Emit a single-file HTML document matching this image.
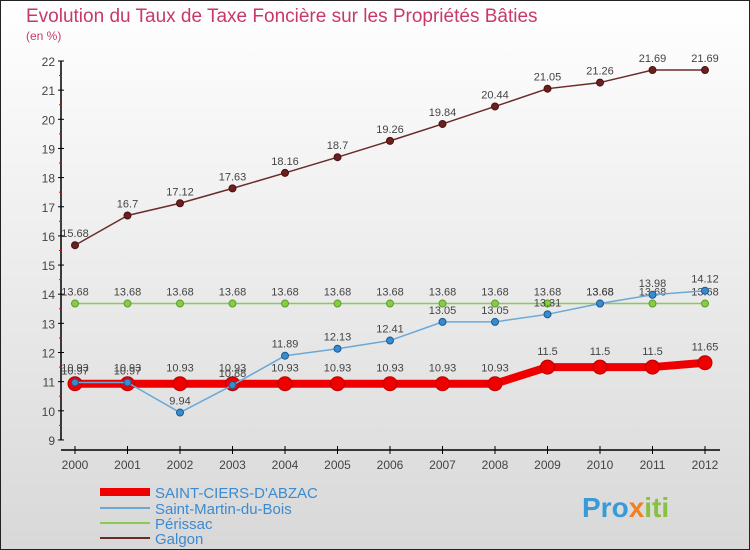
<!DOCTYPE html>
<html><head><meta charset="utf-8"><style>
body{margin:0;}
#c{width:750px;height:550px;position:relative;overflow:hidden;background:linear-gradient(#ffffff,#d8d8d8);font-family:"Liberation Sans",sans-serif;}
text{font-family:"Liberation Sans",sans-serif;}
</style></head><body>
<div id="c">
<svg id="s" width="750" height="550" xmlns="http://www.w3.org/2000/svg">
<rect x="0.5" y="0.5" width="749" height="549" fill="none" stroke="#222"/>
<text x="26" y="22" font-size="19" fill="#c8386a">Evolution du Taux de Taxe Foncière sur les Propriétés Bâties</text>
<text x="26" y="40" font-size="12" fill="#c8386a">(en %)</text>
<g id="grid"></g><g id="axes"></g><g id="series"></g>
<g>
<line x1="100" y1="492" x2="150" y2="492" stroke="#ee0000" stroke-width="8"/>
<text x="155" y="498" font-size="15" fill="#3c8ad0">SAINT-CIERS-D'ABZAC</text>
<line x1="100" y1="508" x2="150" y2="508" stroke="#6aa8d8" stroke-width="2"/>
<text x="155" y="514" font-size="15" fill="#3c8ad0">Saint-Martin-du-Bois</text>
<line x1="100" y1="523" x2="150" y2="523" stroke="#88cc55" stroke-width="2"/>
<text x="155" y="529" font-size="15" fill="#3c8ad0">Périssac</text>
<line x1="100" y1="538" x2="150" y2="538" stroke="#6b2a2a" stroke-width="2"/>
<text x="155" y="544" font-size="15" fill="#3c8ad0">Galgon</text>
</g>
<text x="582" y="517" font-size="28" font-weight="bold" fill="#3a9ad8">Pro<tspan fill="#f08020">x</tspan><tspan fill="#88c040">iti</tspan></text>
</svg></div>
<script>
const years=[2000,2001,2002,2003,2004,2005,2006,2007,2008,2009,2010,2011,2012];
const yTicks=[9,10,11,12,13,14,15,16,17,18,19,20,21,22];
const galgon=[15.68,16.7,17.12,17.63,18.16,18.7,19.26,19.84,20.44,21.05,21.26,21.69,21.69];
const perissac=[13.68,13.68,13.68,13.68,13.68,13.68,13.68,13.68,13.68,13.68,13.68,13.68,13.68];
const saintMartin=[10.97,10.97,9.94,10.88,11.89,12.13,12.41,13.05,13.05,13.31,13.68,13.98,14.12];
const saintCiers=[10.93,10.93,10.93,10.93,10.93,10.93,10.93,10.93,10.93,11.5,11.5,11.5,11.65];
const NS="http://www.w3.org/2000/svg";
const X=i=>75+i*52.5;
const Y=v=>61+(22-v)*29.15;
function mk(t,a,p){const e=document.createElementNS(NS,t);for(const k in a)e.setAttribute(k,a[k]);p.appendChild(e);return e;}
const axes=document.getElementById('axes');
let ax=mk('line',{x1:61,y1:Y(22),x2:61,y2:Y(9),stroke:'#000','stroke-width':1.5},axes);

let bx=mk('line',{x1:61,y1:450,x2:720,y2:450,stroke:'#000','stroke-width':1.5},axes);

yTicks.forEach(v=>{
 mk('line',{x1:58,y1:Y(v),x2:64,y2:Y(v),stroke:'#000'},axes);
 if(v<22) mk('line',{x1:59,y1:Y(v+0.5),x2:62,y2:Y(v+0.5),stroke:'#e00'},axes);
 const t=mk('text',{x:55,y:Y(v)+5,'font-size':12,fill:'#444','text-anchor':'end'},axes);t.textContent=v;
 
});
years.forEach((yr,i)=>{
 mk('line',{x1:X(i),y1:446,x2:X(i),y2:454,stroke:'#000'},axes);
 const t=mk('text',{x:X(i),y:469,'font-size':12,fill:'#444','text-anchor':'middle'},axes);t.textContent=yr;
 
});
const ser=document.getElementById('series');
function draw(name,data,col,w,r,dot,dotStroke,lblDy){
 const g=mk('g',{},ser);
 
 const pl=mk('polyline',{points:data.map((v,i)=>X(i)+','+Y(v)).join(' '),fill:'none',stroke:col,'stroke-width':w,'stroke-linejoin':'round'},g);
 
 data.forEach((v,i)=>{
  const c=mk('circle',{cx:X(i),cy:Y(v),r:r,fill:dot,stroke:dotStroke,'stroke-width':1},g);
  
  const t=mk('text',{x:X(i),y:Y(v)+lblDy,'font-size':11,fill:'#444','text-anchor':'middle'},g);t.textContent=v;
  
 });
}
draw('galgon',galgon,'#6b2a2a',1.5,3.5,'#6b2020','#4a1010',-8);
draw('perissac',perissac,'#88cc55',1.5,3.5,'#88cc44','#5a9a30',-8);
draw('saint-ciers',saintCiers,'#ee0000',8,7,'#ee0000','#bb0000',-12);
draw('saint-martin',saintMartin,'#6aa8d8',1.5,3.5,'#3a8ad0','#1a5a90',-8);
</script>
</body></html>
